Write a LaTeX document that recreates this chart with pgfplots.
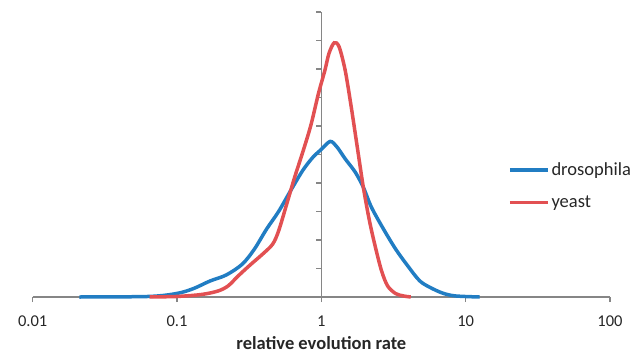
\documentclass[border=0pt]{standalone}
\usepackage{fontspec}
\setmainfont{Carlito}
\usepackage{pgfplots}
\pgfplotsset{compat=1.18}
\definecolor{dblue}{RGB}{33,125,195}
\definecolor{yred}{RGB}{226,80,82}
\definecolor{axgrey}{RGB}{134,134,134}
\begin{document}
\begin{tikzpicture}
\begin{semilogxaxis}[
  name=ax,
  scale only axis,
  width=577.3pt, height=285pt,
  xmin=0.01, xmax=100, ymin=0, ymax=10,
  axis x line=bottom, axis y line=middle,
  axis line style={-, axgrey, line width=1.3pt},
  every tick/.style={axgrey, line width=1.3pt},
  major tick length=5pt,
  tick align=outside,
  xminorticks=false, yminorticks=false,
  xtick={0.01,0.1,1,10,100},
  xticklabels={0.01,0.1,1,10,100},
  ytick={0,1,2,3,4,5,6,7,8,9,10},
  yticklabels={},
  /pgf/number format/assume math mode=true,
  xticklabel style={font=\fontsize{16.5}{19}\selectfont, text=black!85, anchor=base, yshift=-24pt},
  xlabel={\textbf{relative evolution rate}},
  xlabel style={font=\fontsize{18.5}{21}\selectfont, text=black!85, at={(axis description cs:0.5,0)}, anchor=base, yshift=-52.5pt},
  legend style={draw=none, fill=none, at={(axis description cs:0.823,0.39)}, anchor=west,
    font=\fontsize{18.5}{21}\selectfont, text=black!85, row sep=15pt, inner sep=0pt,
    /tikz/every even column/.append style={column sep=0pt}},
  legend cell align=left,
  legend image code/.code={\draw[#1, line width=3.5pt] (0pt,0pt) -- (38pt,0pt);},
  clip=false,
]
\addplot[dblue, line width=3.5pt, smooth, tension=0.5] coordinates {
(0.0211,0) (0.0646,0.02) (0.101,0.13) (0.1306,0.3) (0.169,0.56) (0.2188,0.77)
(0.283,1.15) (0.3436,1.68) (0.417,2.38) (0.5058,3.0) (0.6124,3.73) (0.743,4.44)
(0.873,4.9) (1,5.18) (1.153,5.46) (1.285,5.26) (1.462,4.85) (1.718,4.38)
(1.954,3.85) (2.223,3.15) (2.698,2.38) (3.273,1.68) (3.972,1.09) (4.819,0.56)
(5.848,0.3) (7.079,0.12) (8.59,0.035) (12.5,0)
};
\addlegendentry{drosophila}
\addplot[yred, line width=3.5pt, smooth, tension=0.5] coordinates {
(0.0646,0) (0.101,0.02) (0.1486,0.09) (0.1923,0.21) (0.226,0.39) (0.2655,0.74)
(0.3221,1.13) (0.3908,1.5) (0.4592,1.85) (0.5058,2.32) (0.5754,3.26) (0.6531,4.2)
(0.743,5.08) (0.8453,6.02) (0.955,7.14) (1.059,7.96) (1.13,8.55) (1.227,8.92)
(1.327,8.78) (1.462,7.96) (1.611,6.67) (1.774,5.26) (1.954,3.85) (2.153,2.68)
(2.371,1.74) (2.612,0.92) (2.877,0.39) (3.273,0.12) (3.724,0.035) (4.169,0)
};
\addlegendentry{yeast}
\end{semilogxaxis}
\pgfresetboundingbox
\path (ax.south west) ++(-32.7pt,-57pt) rectangle ++(633pt,354pt);
\end{tikzpicture}
\end{document}
